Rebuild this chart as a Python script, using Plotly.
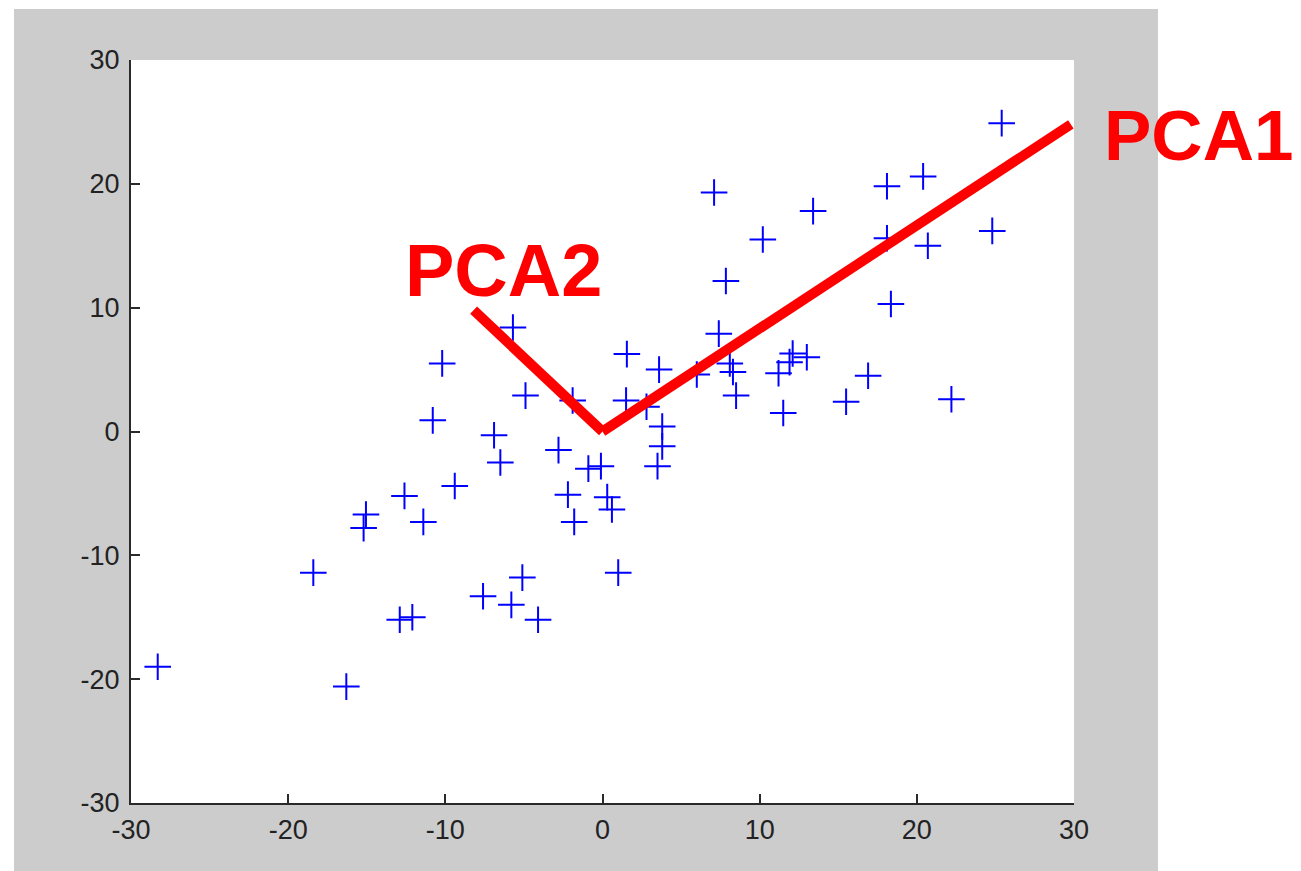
import plotly.graph_objects as go

# data points
x_vals = [-28.3, -16.3, -18.4, -12.9, -12.1, -7.6, -5.8, -4.1, -5.1, 1.0,
          -15.05, -15.2, -12.6, -11.4, -9.4, -1.8, -2.2, 0.3, 0.6, -0.9,
          -0.1, -2.8, -6.5, -6.9, -10.8, -10.2, -5.7, -4.9, -1.9, 1.5,
          2.8, 1.55, 3.6, 3.8, 3.8, 3.5, 6.0, 7.4, 8.1, 8.3,
          8.5, 7.85, 7.1, 10.2, 13.4, 11.2, 11.9, 12.1, 13.0, 11.5,
          15.5, 16.9, 18.1, 18.1, 18.35, 20.4, 20.7, 22.2, 24.8, 25.4]
y_vals = [-19.0, -20.6, -11.4, -15.2, -15.0, -13.3, -14.0, -15.2, -11.8, -11.4,
          -6.7, -7.8, -5.2, -7.3, -4.4, -7.3, -5.1, -5.3, -6.3, -3.0,
          -2.8, -1.5, -2.5, -0.3, 0.9, 5.5, 8.4, 2.9, 2.5, 2.5,
          2.0, 6.25, 5.0, 0.4, -1.2, -2.8, 4.6, 7.9, 5.5, 4.8,
          2.9, 12.15, 19.3, 15.5, 17.8, 4.7, 5.6, 6.3, 6.0, 1.5,
          2.4, 4.5, 19.8, 15.6, 10.3, 20.6, 15.0, 2.6, 16.2, 24.9]

# principal component directions (drawn from the origin)
pca_origin = (0.0, 0.0)
pca1_end = (29.8, 24.8)
pca2_end = (-8.2, 9.8)
pca_labels = ["PCA1", "PCA2"]
# label anchors: x in paper fraction of the plot width, y in data units
pca_label_pos = [(1.0295, 23.9), (0.288, 13.0)]
pca_label_sizes = [71, 74]

axis_range = [-30, 30]
tick_vals = [-30, -20, -10, 0, 10, 20, 30]
tick_text = ["-30", "-20", "-10", "0", "10", "20", "30"]

fig = go.Figure()

fig.add_trace(go.Scatter(
    x=x_vals, y=y_vals, mode="markers",
    marker=dict(symbol="cross-thin", size=19, color="#0000FF",
                line=dict(color="#0000FF", width=2)),
    showlegend=False, cliponaxis=False,
))

for end in (pca1_end, pca2_end):
    fig.add_trace(go.Scatter(
        x=[pca_origin[0], end[0]], y=[pca_origin[1], end[1]],
        mode="lines", line=dict(color="#FF0000", width=10),
        showlegend=False, cliponaxis=False,
    ))

annotations = []
for label, (lx, ly), fs in zip(pca_labels, pca_label_pos, pca_label_sizes):
    annotations.append(dict(
        x=lx, y=ly, xref="paper", yref="y", text=label, showarrow=False,
        xanchor="left", yanchor="middle",
        font=dict(family="Liberation Sans, Arial, sans-serif", size=fs,
                  color="#FF0000", weight="bold"),
    ))

axis_common = dict(
    range=axis_range, tickvals=tick_vals, ticktext=tick_text,
    ticks="inside", ticklen=9,
    tickwidth=1.5, tickcolor="#2a2a2a", showline=True, linecolor="#2a2a2a",
    linewidth=2, showgrid=False, zeroline=False, mirror=False,
    tickfont=dict(family="Liberation Sans, Arial, sans-serif", size=27,
                  color="#222222"),
    fixedrange=True,
)

fig.update_layout(
    width=1301, height=871,
    margin=dict(l=131, r=227, t=60, b=68),
    paper_bgcolor="#FFFFFF", plot_bgcolor="#FFFFFF",
    xaxis=dict(**axis_common, ticklabelstandoff=2),
    yaxis=dict(**axis_common, ticklabelstandoff=4),
    annotations=annotations,
    shapes=[
        dict(type="rect", xref="paper", yref="paper",
             x0=-117/943, x1=1027/943, y0=-68/743, y1=(743 + 51)/743,
             fillcolor="#CCCCCC", line=dict(width=0), layer="below"),
        dict(type="rect", xref="paper", yref="paper",
             x0=0, x1=1, y0=0, y1=1,
             fillcolor="#FFFFFF", line=dict(width=0), layer="below"),
    ],
    showlegend=False,
)

fig.write_html("out.html")
